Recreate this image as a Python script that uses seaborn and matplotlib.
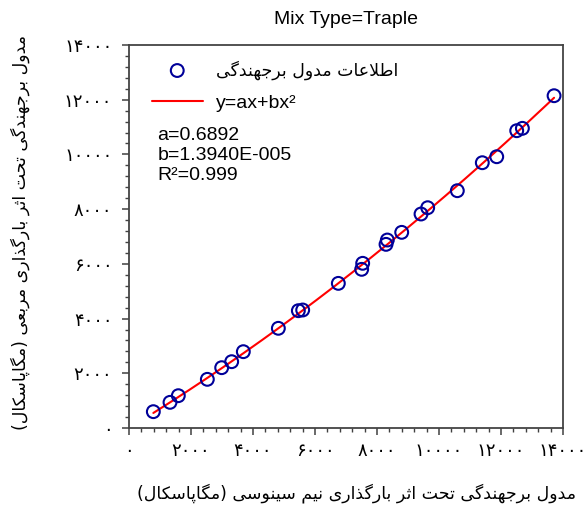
import numpy as np
import pandas as pd
import matplotlib
matplotlib.use("Agg")
import matplotlib.pyplot as plt
from matplotlib.ticker import FixedLocator, MultipleLocator
import seaborn as sns

# ---------------- data ----------------
x_sinus = [785, 1323, 1591, 2527, 2990, 3312, 3688, 4818, 5463, 5603, 6753, 7506,
           7538, 8291, 8333, 8797, 9420, 9635, 10591, 11397, 11862, 12507, 12690, 13712]
y_square = [597, 938, 1181, 1779, 2205, 2424, 2790, 3644, 4288, 4313, 5287, 5800,
            6020, 6713, 6871, 7152, 7822, 8052, 8674, 9697, 9916, 10867, 10954, 12146]
coef_a = 0.6892
coef_b = 1.3940e-5
r_squared = 0.999

tick_values = [0, 2000, 4000, 6000, 8000, 10000, 12000, 14000]
tick_labels = ["۰", "۲۰۰۰", "۴۰۰۰", "۶۰۰۰", "۸۰۰۰", "۱۰۰۰۰", "۱۲۰۰۰", "۱۴۰۰۰"]

title_text = "Mix Type=Traple"
xlabel_text = "مدول برجهندگی تحت اثر بارگذاری نیم سینوسی (مگاپاسکال)"
ylabel_text = "مدول برجهندگی تحت اثر بارگذاری مربعی (مگاپاسکال)"
legend_points = "اطلاعات مدول برجهندگی"
legend_fit = "y=ax+bx²"

# ---------------- simple Persian shaping (presentation forms + RTL order) ----------------
DUAL = {
    'ب': (0xFE8F, 0xFE90, 0xFE91, 0xFE92), 'پ': (0xFB56, 0xFB57, 0xFB58, 0xFB59),
    'ت': (0xFE95, 0xFE96, 0xFE97, 0xFE98), 'ث': (0xFE99, 0xFE9A, 0xFE9B, 0xFE9C),
    'ج': (0xFE9D, 0xFE9E, 0xFE9F, 0xFEA0), 'ح': (0xFEA1, 0xFEA2, 0xFEA3, 0xFEA4),
    'س': (0xFEB1, 0xFEB2, 0xFEB3, 0xFEB4), 'ط': (0xFEC1, 0xFEC2, 0xFEC3, 0xFEC4),
    'ع': (0xFEC9, 0xFECA, 0xFECB, 0xFECC), 'ک': (0xFB8E, 0xFB8F, 0xFB90, 0xFB91),
    'گ': (0xFB92, 0xFB93, 0xFB94, 0xFB95), 'ل': (0xFEDD, 0xFEDE, 0xFEDF, 0xFEE0),
    'م': (0xFEE1, 0xFEE2, 0xFEE3, 0xFEE4), 'ن': (0xFEE5, 0xFEE6, 0xFEE7, 0xFEE8),
    'ه': (0xFEE9, 0xFEEA, 0xFEEB, 0xFEEC), 'ی': (0xFBFC, 0xFBFD, 0xFBFE, 0xFBFF),
}
RIGHT = {
    'ا': (0xFE8D, 0xFE8E), 'د': (0xFEA9, 0xFEAA), 'ذ': (0xFEAB, 0xFEAC),
    'ر': (0xFEAD, 0xFEAE), 'ز': (0xFEAF, 0xFEB0), 'و': (0xFEED, 0xFEEE),
}
LETTERS = set(DUAL) | set(RIGHT)


def shape(s):
    out = []
    i, n = 0, len(s)
    while i < n:
        c = s[i]
        if c not in LETTERS:
            out.append(c)
            i += 1
            continue
        prev_j = i > 0 and s[i - 1] in DUAL
        if c == 'ل' and i + 1 < n and s[i + 1] == 'ا':
            out.append(chr(0xFEFC if prev_j else 0xFEFB))
            i += 2
            continue
        next_j = c in DUAL and i + 1 < n and s[i + 1] in LETTERS
        forms = DUAL.get(c) or RIGHT[c]
        if prev_j and next_j:
            f = forms[3]
        elif prev_j:
            f = forms[1]
        elif next_j:
            f = forms[2]
        else:
            f = forms[0]
        out.append(chr(f))
        i += 1
    vis = ''.join(reversed(out))
    return vis.translate(str.maketrans('()', ')('))


# ---------------- plot ----------------
sns.set_style("ticks")
plt.rcParams['font.family'] = ['Liberation Sans', 'DejaVu Sans']
plt.rcParams['text.color'] = 'black'
plt.rcParams['axes.labelcolor'] = 'black'

df = pd.DataFrame({"x": x_sinus, "y": y_square})
xfit = np.linspace(min(x_sinus), max(x_sinus), 200)
fit_df = pd.DataFrame({"x": xfit, "y": coef_a * xfit + coef_b * xfit ** 2})

fig = plt.figure(figsize=(5.87, 5.09), dpi=100)
ax = fig.add_axes([129 / 587, 1 - 428 / 509, 434 / 587, 383 / 509])

sns.lineplot(data=fit_df, x="x", y="y", ax=ax, color="#ff0000", lw=1.5,
             label=legend_fit, zorder=2)
sns.scatterplot(data=df, x="x", y="y", ax=ax, s=85, marker="o",
                facecolors="none", edgecolor="#000099", linewidth=1.5,
                label=shape(legend_points), zorder=3)

ax.set_xlim(0, 14000)
ax.set_ylim(0, 14000)
ax.xaxis.set_major_locator(FixedLocator(tick_values))
ax.yaxis.set_major_locator(FixedLocator(tick_values))
ax.set_xticklabels(tick_labels, family='DejaVu Sans', fontsize=13)
ax.set_yticklabels(tick_labels, family='DejaVu Sans', fontsize=13)
ax.xaxis.set_minor_locator(MultipleLocator(400))
ax.yaxis.set_minor_locator(MultipleLocator(400))
ax.tick_params(which='major', direction='out', length=5, width=1.1, color='#404040',
               labelcolor='black', pad=5)
ax.tick_params(which='minor', direction='out', length=3, width=1.0, color='#404040')
ax.tick_params(axis='y', which='major', pad=7)
ax.tick_params(top=False, right=False, which='both')

for sp in ax.spines.values():
    sp.set_visible(True)
    sp.set_color('#444444')
    sp.set_linewidth(1.3)

ax.set_title(title_text, fontsize=14, pad=15, color='black')
ax.set_xlabel(shape(xlabel_text), family='DejaVu Sans', fontsize=12.5, color='black')
ax.set_ylabel(shape(ylabel_text), family='DejaVu Sans', fontsize=12.5, color='black')
ax.xaxis.set_label_coords(0.525, -0.145)
ax.yaxis.set_label_coords(-0.228, 0.51)

h, l = ax.get_legend_handles_labels()
leg = ax.legend(h[::-1], l[::-1], loc='upper left', bbox_to_anchor=(0.035, 0.98),
                frameon=False, fontsize=14, handlelength=2.6, handletextpad=0.7,
                labelspacing=0.75, borderaxespad=0)
for t in leg.get_texts():
    t.set_color('black')
    if t.get_text() != legend_fit:
        t.set_family('DejaVu Sans')
        t.set_fontsize(12.5)

ax.text(0.065, 0.785, f"a={coef_a}\nb=1.3940E-005\nR²={r_squared}",
        transform=ax.transAxes, fontsize=14, va='top', ha='left', linespacing=1.2,
        color='black')

fig.savefig("out.png", dpi=100)
